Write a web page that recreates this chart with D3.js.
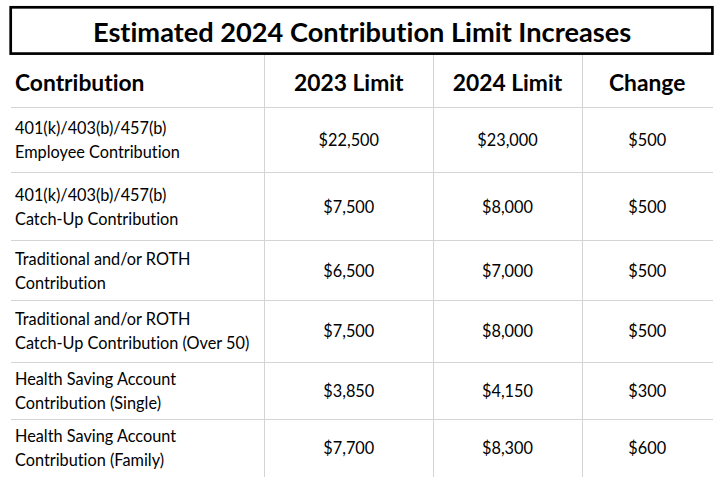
<!DOCTYPE html>
<html>
<head>
<meta charset="utf-8">
<script src="https://cdn.jsdelivr.net/npm/d3@7"></script>
<style>
  html, body { margin: 0; padding: 0; background: #fff; }
  svg { display: block; }
  text { font-variant-ligatures: none; font-feature-settings: "liga" 0, "clig" 0; }
</style>
</head>
<body>
<svg id="chart" width="724" height="489"></svg>
<script>
// ---- data ----
const title = "Estimated 2024 Contribution Limit Increases";
const headers = ["Contribution", "2023 Limit", "2024 Limit", "Change"];
const contributionLine1 = [
  "401(k)/403(b)/457(b)",
  "401(k)/403(b)/457(b)",
  "Traditional and/or ROTH",
  "Traditional and/or ROTH",
  "Health Saving Account",
  "Health Saving Account"
];
const contributionLine2 = [
  "Employee Contribution",
  "Catch-Up Contribution",
  "Contribution",
  "Catch-Up Contribution (Over 50)",
  "Contribution (Single)",
  "Contribution (Family)"
];
const limit2023 = [22500, 7500, 6500, 7500, 3850, 7700];
const limit2024 = [23000, 8000, 7000, 8000, 4150, 8300];
const change = [500, 500, 500, 500, 300, 600];

// ---- layout ----
const colWidths = [253.3, 169, 148.4, 131];
const rowHeights = [65.3, 68, 60, 61.4, 57.6, 57.4];
const tableLeft = 11, headerTop = 55, headerBottom = 107;
const fontFamily = "Lato, 'Noto Sans', sans-serif";
const lineColor = "#d4d4d4";

const svg = d3.select("#chart");
const fmt = d3.format("$,");

const colEdges = d3.cumsum([0, ...colWidths]);
const x = d3.scaleLinear().domain([0, colEdges[colEdges.length - 1]])
  .range([tableLeft, tableLeft + colEdges[colEdges.length - 1]]);
const rowEdges = d3.cumsum([0, ...rowHeights]);
const y = d3.scaleLinear().domain([0, rowEdges[rowEdges.length - 1]])
  .range([headerBottom, headerBottom + rowEdges[rowEdges.length - 1]]);

const tableRight = x(colEdges[colEdges.length - 1]);
const tableBottom = y(rowEdges[rowEdges.length - 1]);

// title box
svg.append("rect")
  .attr("x", 10.7).attr("y", 7.3)
  .attr("width", 712.4 - 10.7).attr("height", 53.6 - 7.3)
  .attr("fill", "none").attr("stroke", "#000").attr("stroke-width", 2.7);
svg.append("text")
  .attr("x", (10.7 + 712.4) / 2 + 0.5).attr("y", 41.7)
  .attr("text-anchor", "middle")
  .attr("font-family", fontFamily).attr("font-weight", "bold")
  .attr("font-size", 27.2).attr("fill", "#000")
  .text(title);

// grid lines
const g = svg.append("g").attr("shape-rendering", "crispEdges");
g.selectAll("line.v").data(colEdges.slice(1, -1)).join("line")
  .attr("class", "v")
  .attr("x1", d => Math.round(x(d)) + 0.5).attr("x2", d => Math.round(x(d)) + 0.5)
  .attr("y1", headerTop).attr("y2", tableBottom)
  .attr("stroke", lineColor).attr("stroke-width", 1);
g.selectAll("line.h").data(rowEdges.slice(0, -1)).join("line")
  .attr("class", "h")
  .attr("x1", tableLeft).attr("x2", tableRight)
  .attr("y1", d => Math.round(y(d)) + 0.5).attr("y2", d => Math.round(y(d)) + 0.5)
  .attr("stroke", lineColor).attr("stroke-width", 1);

// header texts
const colCenter = i => (x(colEdges[i]) + x(colEdges[i + 1])) / 2;
svg.selectAll("text.hdr").data(headers).join("text")
  .attr("class", "hdr")
  .attr("x", (d, i) => i === 0 ? 15 : colCenter(i))
  .attr("y", 90.7)
  .attr("text-anchor", (d, i) => i === 0 ? "start" : "middle")
  .attr("font-family", fontFamily).attr("font-weight", "bold")
  .attr("font-size", 22.8).attr("fill", "#000")
  .text(d => d);

// rows
const rows = limit2023.map((v, i) => ({
  l1: contributionLine1[i], l2: contributionLine2[i],
  vals: [limit2023[i], limit2024[i], change[i]],
  mid: (y(rowEdges[i]) + y(rowEdges[i + 1])) / 2
}));

const rowG = svg.selectAll("g.row").data(rows).join("g").attr("class", "row")
  .attr("font-family", fontFamily).attr("font-size", 16.3).attr("fill", "#000");

rowG.append("text").attr("x", 15).attr("y", d => d.mid - 5.7).text(d => d.l1);
rowG.append("text").attr("x", 15).attr("y", d => d.mid + 18.3).text(d => d.l2);
rowG.selectAll("text.val").data(d => d.vals.map((v, j) => ({ v, j, mid: d.mid }))).join("text")
  .attr("class", "val")
  .attr("x", d => colCenter(d.j + 1))
  .attr("y", d => d.mid + 6.3)
  .attr("text-anchor", "middle")
  .text(d => fmt(d.v));
</script>
</body>
</html>
